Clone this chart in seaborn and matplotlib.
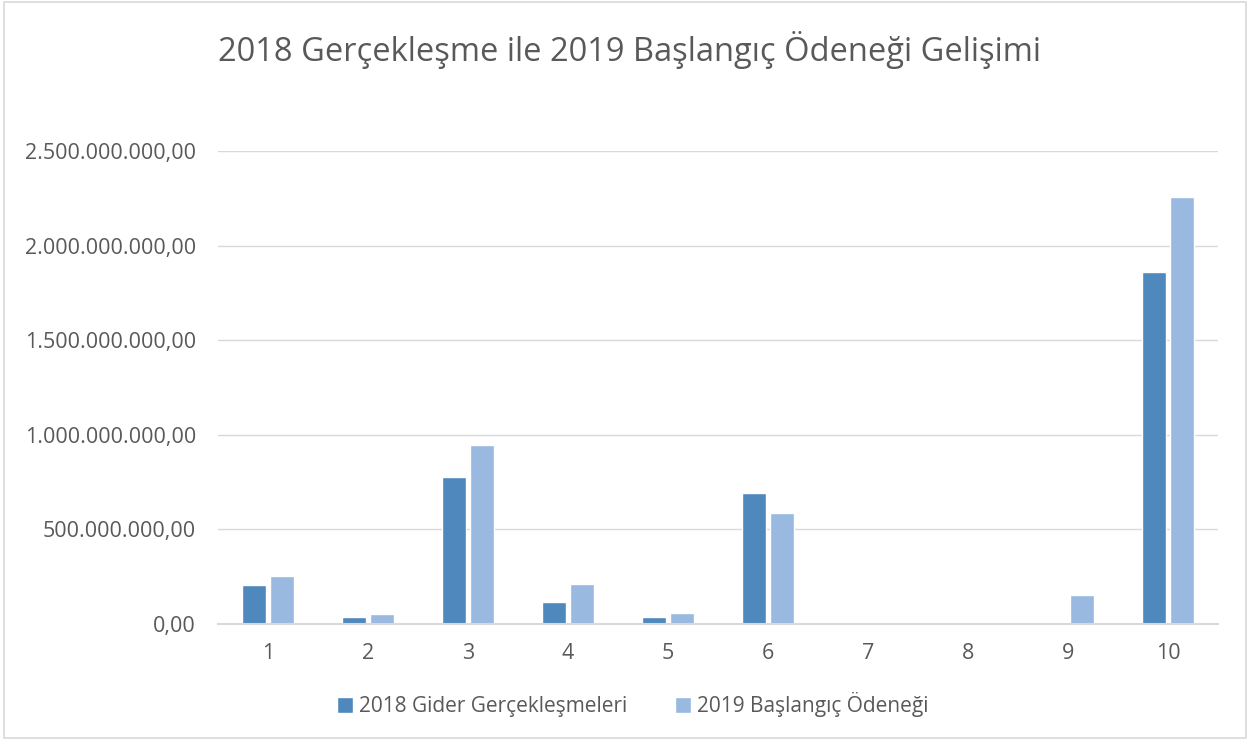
import pandas as pd
import matplotlib.pyplot as plt
import matplotlib.ticker as mticker
import seaborn as sns

# Veriler
kategoriler = ["1", "2", "3", "4", "5", "6", "7", "8", "9", "10"]
gider_2018 = [205e6, 37e6, 777e6, 116e6, 37e6, 692e6, 0, 0, 0, 1860e6]
odenek_2019 = [254e6, 53e6, 946e6, 211e6, 58e6, 587e6, 0, 0, 153e6, 2257e6]
seriler = ["2018 Gider Gerçekleşmeleri", "2019 Başlangıç Ödeneği"]

df = pd.DataFrame({
    "Kategori": kategoriler * 2,
    "Deger": gider_2018 + odenek_2019,
    "Seri": [seriler[0]] * len(kategoriler) + [seriler[1]] * len(kategoriler),
})

sns.set_theme(style="white")
plt.rcParams["font.family"] = ["Open Sans", "DejaVu Sans"]

fig = plt.figure(figsize=(12.5, 7.4), dpi=100)
ax = fig.add_axes([0.1745, 0.157, 0.8, 0.639])

sns.barplot(data=df, x="Kategori", y="Deger", hue="Seri",
            palette=["#4F88BD", "#99B9E0"], saturation=1, width=0.56, gap=0.12,
            edgecolor="white", linewidth=1, ax=ax)

def tr_format(x, pos):
    s = f"{x:,.2f}"
    return s.replace(",", "X").replace(".", ",").replace("X", ".")

ax.yaxis.set_major_formatter(mticker.FuncFormatter(tr_format))
ax.set_ylim(0, 2.5e9)
ax.set_yticks([0, 5e8, 1e9, 1.5e9, 2e9, 2.5e9])
ax.set_xlim(-0.5, 9.5)
ax.grid(axis="y", color="#d9d9d9", linewidth=1)
ax.set_axisbelow(True)
for s in ["top", "right", "left"]:
    ax.spines[s].set_visible(False)
ax.spines["bottom"].set_color("#d9d9d9")
ax.spines["bottom"].set_linewidth(1.5)
ax.tick_params(axis="y", length=0, labelsize=15.5, labelcolor="#595959", pad=16)
ax.tick_params(axis="x", length=0, labelsize=15.5, labelcolor="#595959", pad=14)
ax.set_xlabel("")
ax.set_ylabel("")

fig.suptitle("2018 Gerçekleşme ile 2019 Başlangıç Ödeneği Gelişimi",
             fontsize=23.5, color="#595959", x=0.504, y=0.958)

ax.legend(loc="upper center", bbox_to_anchor=(0.415, -0.105), ncol=2, frameon=False,
          fontsize=15, labelcolor="#595959", handlelength=0.75, handleheight=0.75,
          columnspacing=2.3, handletextpad=0.3)

fig.patches.append(plt.Rectangle((0.003, 0.003), 0.994, 0.994, transform=fig.transFigure,
                                 fill=False, edgecolor="#d9d9d9", linewidth=1.2))

fig.savefig("out.png", dpi=100)
